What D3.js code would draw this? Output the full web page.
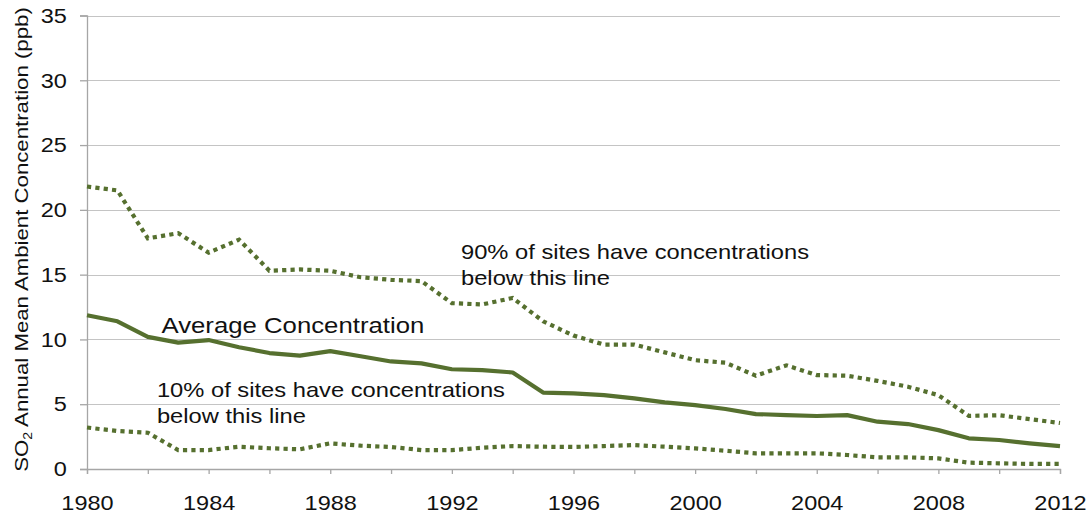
<!DOCTYPE html>
<html>
<head>
<meta charset="utf-8">
<script src="https://cdn.jsdelivr.net/npm/d3@7"></script>
<style>
  html, body { margin: 0; padding: 0; background: #fff; }
  svg { display: block; font-family: Arial, "Liberation Sans", sans-serif; }
</style>
</head>
<body>
<svg id="chart" width="1091" height="516"></svg>
<script>
const years = d3.range(1980, 2013);
const p90 = [21.8, 21.5, 17.8, 18.2, 16.7, 17.7, 15.3, 15.4, 15.3, 14.8, 14.6, 14.5, 12.8, 12.7, 13.2, 11.4,
             10.3, 9.6, 9.6, 9.0, 8.4, 8.2, 7.2, 8.0, 7.25, 7.2, 6.8, 6.35, 5.7, 4.1, 4.15, 3.85, 3.55];
const avg = [11.87, 11.4, 10.2, 9.75, 9.95, 9.4, 8.95, 8.75, 9.1, 8.7, 8.3, 8.15, 7.7, 7.63, 7.45, 5.9,
             5.83, 5.7, 5.45, 5.14, 4.93, 4.63, 4.24, 4.16, 4.09, 4.16, 3.65, 3.47, 3.0, 2.37, 2.24, 1.98, 1.77];
const p10 = [3.2, 2.93, 2.8, 1.46, 1.46, 1.72, 1.6, 1.52, 1.98, 1.8, 1.7, 1.46, 1.46, 1.64, 1.77, 1.72,
             1.7, 1.77, 1.85, 1.72, 1.59, 1.41, 1.21, 1.21, 1.21, 1.08, 0.9, 0.9, 0.82, 0.49, 0.44, 0.39, 0.39];
const yTicks = [0, 5, 10, 15, 20, 25, 30, 35];
const xMinorTicks = d3.range(1980, 2013, 2);
const xLabelTicks = d3.range(1980, 2013, 4);
const annotations = [
  { lines: ["90% of sites have concentrations", "below this line"], year: 1992.3, value: 16.2, size: 21, scale: 1.13 },
  { lines: ["Average Concentration"], year: 1982.45, value: 10.5, size: 22, scale: 1.17 },
  { lines: ["10% of sites have concentrations", "below this line"], year: 1982.3, value: 5.55, size: 21, scale: 1.13 }
];

const W = 1091, H = 516;
const m = { left: 87, right: 31, top: 15.5, bottom: 47 };
const lineColor = "#56702f";
const sx = 1.12;

const svg = d3.select("#chart");
const x = d3.scaleLinear().domain([1980, 2012]).range([m.left, W - m.right]);
const y = d3.scaleLinear().domain([0, 35]).range([H - m.bottom, m.top]);

// grid
svg.append("g").selectAll("line").data(yTicks.filter(d => d > 0)).join("line")
  .attr("x1", x(1980)).attr("x2", x(2012))
  .attr("y1", d => Math.round(y(d)) + 0.5).attr("y2", d => Math.round(y(d)) + 0.5)
  .attr("stroke", "#c4c4c4").attr("stroke-width", 1.2);

// y axis
const yAxis = svg.append("g").attr("transform", `translate(${x(1980)},0)`)
  .call(d3.axisLeft(y).tickValues(yTicks).tickSize(7).tickPadding(11));
yAxis.select(".domain").attr("stroke", "#a6a6a6").attr("stroke-width", 1.3);
yAxis.selectAll(".tick line").attr("stroke", "#a6a6a6").attr("stroke-width", 1.3);
yAxis.selectAll("text").attr("font-size", 21).attr("fill", "#111")
  .attr("font-family", "Arial, 'Liberation Sans', sans-serif")
  .attr("transform", `scale(${sx},1)`);

// x axis
const xAxis = svg.append("g").attr("transform", `translate(0,${y(0)})`)
  .call(d3.axisBottom(x).tickValues(xMinorTicks).tickSize(5).tickFormat(""));
xAxis.select(".domain").attr("stroke", "#a6a6a6").attr("stroke-width", 1.3);
xAxis.selectAll(".tick line").attr("stroke", "#a6a6a6").attr("stroke-width", 1.3);

const xLab = svg.append("g").attr("transform", `translate(0,${y(0)})`)
  .call(d3.axisBottom(x).tickValues(xLabelTicks).tickSize(0).tickPadding(26).tickFormat(d3.format("d")));
xLab.select(".domain").remove();
xLab.selectAll("text").attr("font-size", 21).attr("fill", "#111")
  .attr("font-family", "Arial, 'Liberation Sans', sans-serif")
  .attr("transform", `scale(${sx},1)`);

// lines
const line = d3.line().x((d, i) => x(years[i])).y(d => y(d));
svg.append("path").datum(p90).attr("d", line).attr("fill", "none")
  .attr("stroke", lineColor).attr("stroke-width", 4.2).attr("stroke-dasharray", "4.2,4.2");
svg.append("path").datum(p10).attr("d", line).attr("fill", "none")
  .attr("stroke", lineColor).attr("stroke-width", 4.2).attr("stroke-dasharray", "4.2,4.2");
svg.append("path").datum(avg).attr("d", line).attr("fill", "none")
  .attr("stroke", lineColor).attr("stroke-width", 4.2).attr("stroke-linejoin", "round");

// annotations
annotations.forEach(a => {
  const g = svg.append("g").attr("transform", `translate(${x(a.year)},${y(a.value)}) scale(${a.scale},1)`);
  a.lines.forEach((t, i) => {
    g.append("text").attr("x", 0).attr("y", i * 26).attr("font-size", a.size).attr("fill", "#111").text(t);
  });
});

// y title
const title = svg.append("text")
  .attr("transform", `translate(28,${(9 + 470) / 2}) rotate(-90) scale(1.17,1)`)
  .attr("text-anchor", "middle").attr("font-size", 19).attr("fill", "#111");
title.append("tspan").text("SO");
title.append("tspan").attr("font-size", 12).attr("dy", 4).text("2");
title.append("tspan").attr("dy", -4).text(" Annual Mean Ambient Concentration (ppb)");
</script>
</body>
</html>
